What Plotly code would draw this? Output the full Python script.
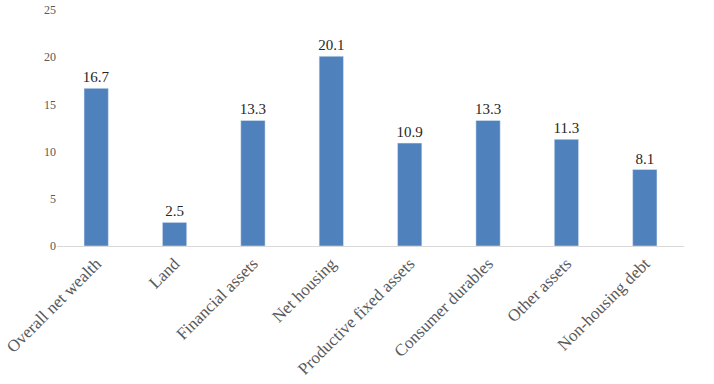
import plotly.graph_objects as go

categories = ["Overall net wealth", "Land", "Financial assets", "Net housing",
              "Productive fixed assets", "Consumer durables", "Other assets", "Non-housing debt"]
values = [16.7, 2.5, 13.3, 20.1, 10.9, 13.3, 11.3, 8.1]
labels = ["16.7", "2.5", "13.3", "20.1", "10.9", "13.3", "11.3", "8.1"]
y_ticks = [0, 5, 10, 15, 20, 25]

SERIF = "'Liberation Serif', 'Times New Roman', 'DejaVu Serif', serif"

fig = go.Figure(go.Bar(
    x=categories, y=values, text=labels, textposition="outside",
    textfont=dict(family=SERIF, size=15, color="#262626"),
    constraintext="none",
    marker=dict(color="#4F81BD"), cliponaxis=False,
))
fig.update_layout(
    width=714, height=384,
    margin=dict(l=57, r=30, t=10, b=138),
    plot_bgcolor="white", paper_bgcolor="white",
    bargap=0.69, showlegend=False,
    font=dict(family=SERIF, color="#595959"),
)
fig.update_xaxes(tickangle=-45, tickfont=dict(family=SERIF, size=17, color="#595959"),
                 showline=True, linecolor="#D9D9D9", linewidth=1, ticks="", showgrid=False,
                 automargin=False)
fig.update_yaxes(range=[0, 25], tickvals=y_ticks, showgrid=False, zeroline=False,
                 tickfont=dict(family=SERIF, size=12, color="#595959"), ticks="", ticklen=0,
                 automargin=False)
fig.write_html("out.html", config={"displayModeBar": False},
               post_script="document.body.style.margin='0';document.body.style.overflow='hidden';")
